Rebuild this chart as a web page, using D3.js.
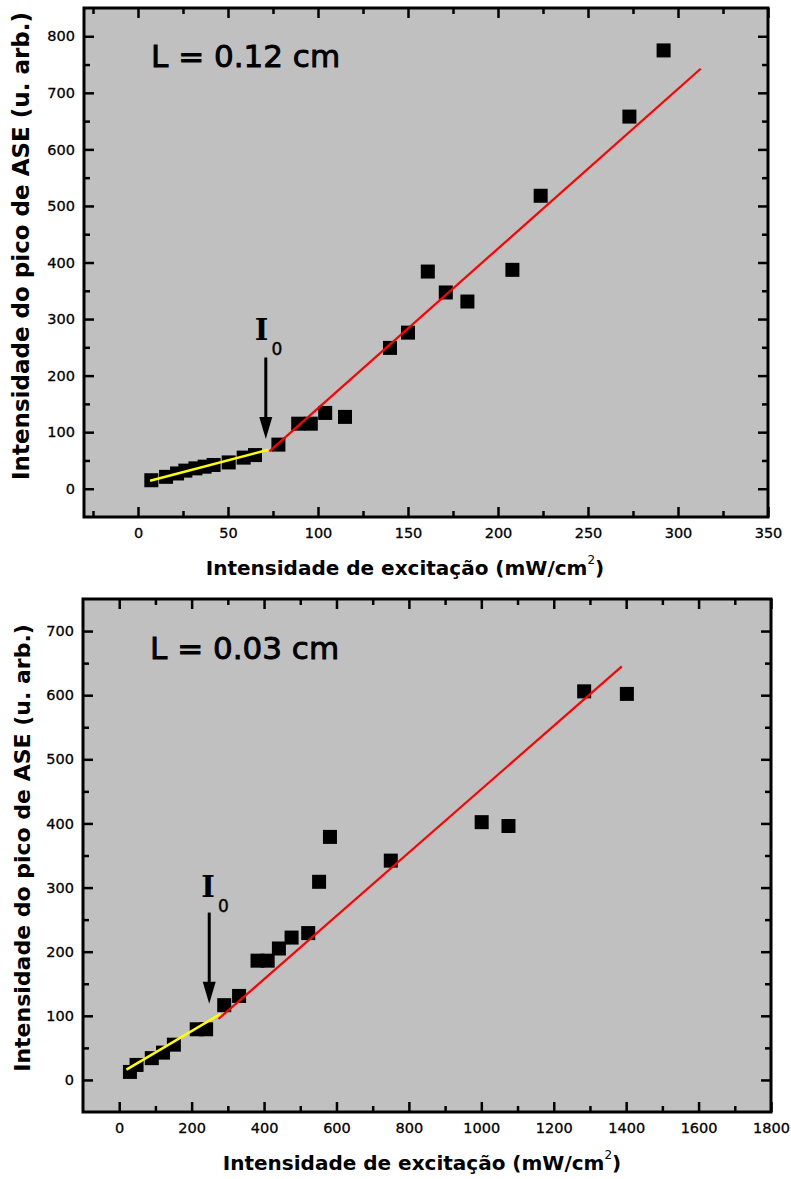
<!DOCTYPE html>
<html>
<head>
<meta charset="utf-8">
<script src="https://cdn.jsdelivr.net/npm/d3@7"></script>
<style>
  html, body { margin: 0; padding: 0; background: #ffffff; }
  svg { display: block; }
  .tick text { font-family: "DejaVu Sans", sans-serif; font-size: 14.5px; fill: #000; stroke: #000; stroke-width: 0.3px; }
</style>
</head>
<body>
<svg id="chart" width="791" height="1179"></svg>
<script>
// ---------- Data ----------
// Panel A: L = 0.12 cm
const topLabel = "L = 0.12 cm";
const topX = [7.4, 15.6, 21.7, 26.3, 31.9, 37, 42, 50.4, 58.7, 65, 78, 89, 96, 104, 115, 140, 150, 161, 171, 183, 208, 223.7, 273, 292];
const topY = [15, 21, 27, 32, 36, 39, 42, 46.5, 55, 59.5, 78, 115, 115, 134, 127, 249, 276, 384, 347, 331, 387, 518, 658, 775];
const topYellowX = [6.7, 72.4];
const topYellowY = [14, 69];
const topRedX = [73, 312.6];
const topRedY = [66, 742.6];
const topXDomain = [-30, 350];
const topYDomain = [-50, 850];
const topXTicks = [0, 50, 100, 150, 200, 250, 300, 350];
const topXMinor = [-25, 25, 75, 125, 175, 225, 275, 325];
const topYTicks = [0, 100, 200, 300, 400, 500, 600, 700, 800];
const topYMinor = [50, 150, 250, 350, 450, 550, 650, 750];
const topArrowX = [71, 71];
const topArrowY = [232, 88];
const topI0 = [68.6, 263];

// Panel B: L = 0.03 cm
const botLabel = "L = 0.03 cm";
const botX = [29.6, 47.9, 90, 121, 151, 214, 240, 290, 331, 382, 410, 441, 476, 522, 552, 582, 750, 1001, 1075, 1284, 1402];
const botY = [12.5, 23.4, 34, 42.6, 55, 79, 79, 116.6, 131, 186, 186, 205, 222, 229, 309, 379, 342, 402, 396, 606, 602];
const botYellowX = [20, 280];
const botYellowY = [16, 103];
const botRedX = [274, 1388];
const botRedY = [95, 645];
const botXDomain = [-100, 1800];
const botYDomain = [-50, 750];
const botXTicks = [0, 200, 400, 600, 800, 1000, 1200, 1400, 1600, 1800];
const botXMinor = [100, 300, 500, 700, 900, 1100, 1300, 1500, 1700];
const botYTicks = [0, 100, 200, 300, 400, 500, 600, 700];
const botYMinor = [50, 150, 250, 350, 450, 550, 650];
const botArrowX = [248.6, 248.6];
const botArrowY = [261, 119];
const botI0 = [245, 285];

const xTitle = "Intensidade de excitação (mW/cm";
const yTitle = "Intensidade do pico de ASE (u. arb.)";

const svg = d3.select("#chart");

function panel(o) {
  const g = svg.append("g");
  const x = d3.scaleLinear().domain(o.xDomain).range([o.left, o.right]);
  const y = d3.scaleLinear().domain(o.yDomain).range([o.bottom, o.top]);

  // background
  g.append("rect")
    .attr("x", o.left).attr("y", o.top)
    .attr("width", o.right - o.left).attr("height", o.bottom - o.top)
    .attr("fill", "#c0c0c0");

  const MAJ = 10, MIN = 6;
  function styleAxis(sel) {
    sel.select(".domain").remove();
    sel.selectAll(".tick line").attr("stroke", "#000").attr("stroke-width", 2.5);
  }
  // bottom axis with labels
  g.append("g").attr("transform", `translate(0,${o.bottom})`)
    .call(d3.axisBottom(x).tickValues(o.xTicks).tickSize(-MAJ).tickPadding(11).tickFormat(d3.format("d")))
    .call(styleAxis);
  g.append("g").attr("transform", `translate(0,${o.bottom})`)
    .call(d3.axisBottom(x).tickValues(o.xMinor).tickSize(-MIN).tickFormat(""))
    .call(styleAxis);
  // top axis
  g.append("g").attr("transform", `translate(0,${o.top})`)
    .call(d3.axisTop(x).tickValues(o.xTicks).tickSize(-MAJ).tickFormat(""))
    .call(styleAxis);
  g.append("g").attr("transform", `translate(0,${o.top})`)
    .call(d3.axisTop(x).tickValues(o.xMinor).tickSize(-MIN).tickFormat(""))
    .call(styleAxis);
  // left axis with labels
  g.append("g").attr("transform", `translate(${o.left},0)`)
    .call(d3.axisLeft(y).tickValues(o.yTicks).tickSize(-MAJ).tickPadding(9).tickFormat(d3.format("d")))
    .call(styleAxis);
  g.append("g").attr("transform", `translate(${o.left},0)`)
    .call(d3.axisLeft(y).tickValues(o.yMinor).tickSize(-MIN).tickFormat(""))
    .call(styleAxis);
  // right axis
  g.append("g").attr("transform", `translate(${o.right},0)`)
    .call(d3.axisRight(y).tickValues(o.yTicks).tickSize(-MAJ).tickFormat(""))
    .call(styleAxis);
  g.append("g").attr("transform", `translate(${o.right},0)`)
    .call(d3.axisRight(y).tickValues(o.yMinor).tickSize(-MIN).tickFormat(""))
    .call(styleAxis);

  // data squares
  const pts = o.xs.map((v, i) => [v, o.ys[i]]);
  const S = 14;
  g.append("g").selectAll("rect").data(pts).join("rect")
    .attr("x", d => x(d[0]) - S / 2)
    .attr("y", d => y(d[1]) - S / 2)
    .attr("width", S).attr("height", S)
    .attr("fill", "#000");

  const line = d3.line().x(d => x(d[0])).y(d => y(d[1]));
  // yellow fit
  g.append("path")
    .attr("d", line(o.yellowX.map((v, i) => [v, o.yellowY[i]])))
    .attr("stroke", "#ffff00").attr("stroke-width", 2.5).attr("fill", "none");
  // red fit
  g.append("path")
    .attr("d", line(o.redX.map((v, i) => [v, o.redY[i]])))
    .attr("stroke", "#ff0000").attr("stroke-width", 2.2).attr("fill", "none");

  // arrow
  const ax = x(o.arrowX[0]);
  const ay0 = y(o.arrowY[0]);
  const ay1 = y(o.arrowY[1]);
  const headH = 22, headW = 6.5;
  g.append("line")
    .attr("x1", ax).attr("x2", ax)
    .attr("y1", ay0).attr("y2", ay1 - headH + 2)
    .attr("stroke", "#000").attr("stroke-width", 3);
  g.append("path")
    .attr("d", `M${ax - headW},${ay1 - headH} L${ax + headW},${ay1 - headH} L${ax},${ay1} Z`)
    .attr("fill", "#000");

  // I0 label
  const ix = x(o.i0[0]), iy = y(o.i0[1]);
  g.append("text")
    .attr("x", ix).attr("y", iy)
    .attr("text-anchor", "middle")
    .attr("font-family", "DejaVu Serif, serif")
    .attr("font-weight", "bold")
    .attr("font-size", 29)
    .text("I");
  g.append("text")
    .attr("x", ix + 10).attr("y", iy + 15)
    .attr("font-family", "DejaVu Sans, sans-serif")
    .attr("font-size", 17)
    .attr("stroke", "#000").attr("stroke-width", 0.4)
    .text("0");

  // L label
  g.append("text")
    .attr("x", o.left + 67).attr("y", o.labelY)
    .attr("font-family", "DejaVu Sans, sans-serif")
    .attr("font-size", 31)
    .attr("fill", "#000")
    .attr("stroke", "#000").attr("stroke-width", 0.9)
    .text(o.label);

  // frame
  g.append("rect")
    .attr("x", o.left).attr("y", o.top)
    .attr("width", o.right - o.left).attr("height", o.bottom - o.top)
    .attr("fill", "none").attr("stroke", "#000").attr("stroke-width", 3);

  // x title
  const xt = g.append("text")
    .attr("x", o.xTitleX).attr("y", o.xTitleY)
    .attr("text-anchor", "middle")
    .attr("font-family", "DejaVu Sans, sans-serif")
    .attr("font-weight", "bold")
    .attr("font-size", 20);
  xt.append("tspan").text(xTitle);
  xt.append("tspan").attr("dy", -11).attr("font-size", 12).attr("font-weight", "normal").text("2");
  xt.append("tspan").attr("dy", 11).text(")");

  // y title
  g.append("text")
    .attr("transform", `translate(${o.yTitleX},${o.yTitleY}) rotate(-90)`)
    .attr("text-anchor", "middle")
    .attr("font-family", "DejaVu Sans, sans-serif")
    .attr("font-weight", "bold")
    .attr("font-size", o.yTitleSize)
    .text(yTitle);
}

panel({
  left: 84, right: 768, top: 8, bottom: 517,
  xDomain: topXDomain, yDomain: topYDomain,
  xTicks: topXTicks, xMinor: topXMinor, yTicks: topYTicks, yMinor: topYMinor,
  xs: topX, ys: topY,
  yellowX: topYellowX, yellowY: topYellowY, redX: topRedX, redY: topRedY,
  arrowX: topArrowX, arrowY: topArrowY, i0: topI0,
  label: topLabel, labelY: 67,
  xTitleX: 405, xTitleY: 575,
  yTitleX: 29, yTitleY: 246, yTitleSize: 23
});

panel({
  left: 83, right: 771, top: 599, bottom: 1112,
  xDomain: botXDomain, yDomain: botYDomain,
  xTicks: botXTicks, xMinor: botXMinor, yTicks: botYTicks, yMinor: botYMinor,
  xs: botX, ys: botY,
  yellowX: botYellowX, yellowY: botYellowY, redX: botRedX, redY: botRedY,
  arrowX: botArrowX, arrowY: botArrowY, i0: botI0,
  label: botLabel, labelY: 659,
  xTitleX: 422, xTitleY: 1170,
  yTitleX: 30, yTitleY: 848, yTitleSize: 22
});
</script>
</body>
</html>
